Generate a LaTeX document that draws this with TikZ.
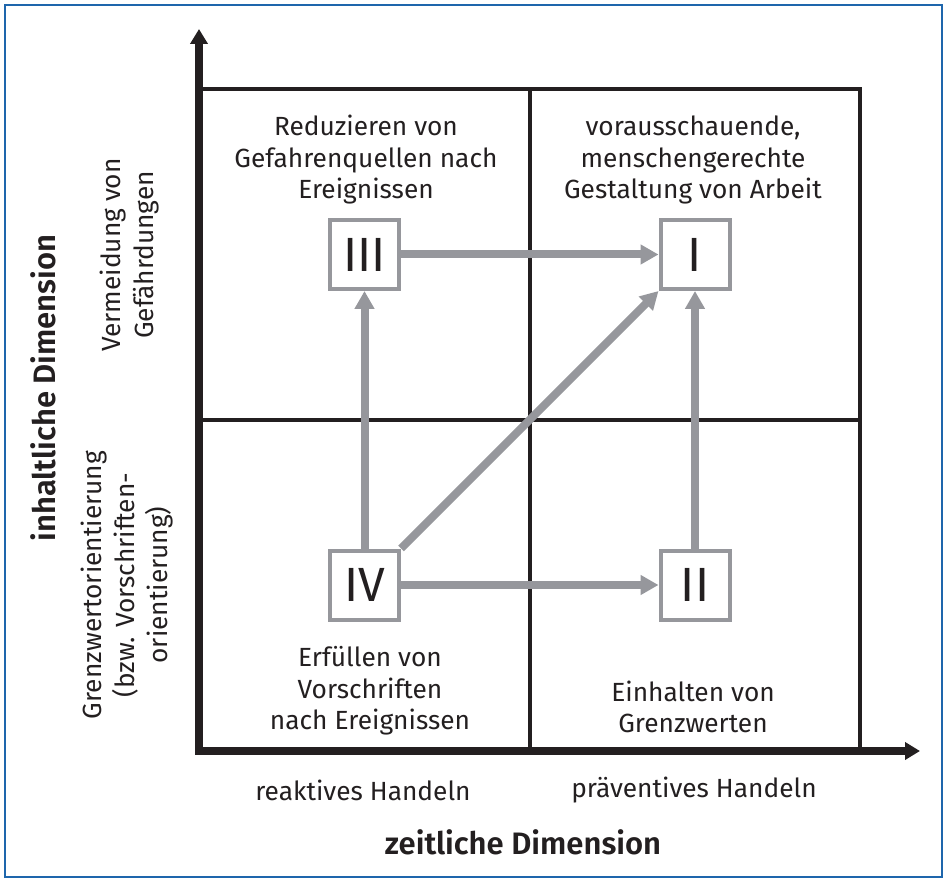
\documentclass[tikz,border=0pt]{standalone}
\usepackage{fontspec}
\setmainfont{Fira Sans}[BoldFont=* SemiBold]
\usetikzlibrary{arrows.meta}
\definecolor{framebl}{RGB}{30,102,172}
\definecolor{linebk}{RGB}{35,31,32}
\definecolor{arrgray}{RGB}{150,151,156}

\begin{document}
\begin{tikzpicture}[x=1pt,y=-1pt,
  gridline/.style={draw=linebk,line width=4pt},
  axisline/.style={draw=linebk,line width=8pt,line join=miter,
    arrows={Triangle[length=15pt,width=17pt]-Triangle[length=15pt,width=17pt]}},
  qbox/.style={draw=arrgray,line width=4pt,fill=white,minimum size=69pt,
    inner sep=0pt,text=linebk,font=\fontsize{48}{52}\selectfont},
  flow/.style={draw=arrgray,line width=8pt,
    -{Triangle[length=18pt,width=19pt]}},
  lbl/.style={align=center,text=linebk,font=\fontsize{26.3}{31.5}\selectfont},
  rlbl/.style={align=center,text=linebk,font=\fontsize{26.3}{33}\selectfont},
  dimlbl/.style={text=linebk,font=\fontsize{31}{34}\selectfont\bfseries}]

\useasboundingbox (0,0) rectangle (945,882);
\draw[framebl,line width=2.5pt] (5,5) rectangle (942,877);

% quadrant grid
\draw[gridline] (199,89) rectangle (860,751);
\draw[gridline] (530,89) -- (530,751);
\draw[gridline] (199,420) -- (860,420);

% axes
\draw[axisline] (199,29) -- (199,751) -- (920,751);

% quadrant boxes
\node[qbox] (III) at (364.5,254.5) {III};
\node[qbox] (I)   at (695,254.5) {I};
\node[qbox] (IV)  at (364.5,585) {IV};
\node[qbox] (II)  at (695,585) {II};

% transitions
\draw[flow] (III.east) -- (I.west);
\draw[flow] (IV.east) -- (II.west);
\draw[flow] (IV.north) -- (III.south);
\draw[flow] (II.north) -- (I.south);
\draw[flow] (IV.north east) -- (I.south west);

% quadrant texts
\node[lbl] (t3) at (366,160) {Reduzieren von\\Gefahrenquellen nach\\Ereignissen};
\node[lbl] (t1) at (693,160) {vorausschauende,\\menschengerechte\\Gestaltung von Arbeit};
\node[lbl] (t4) at (370,691) {Erfüllen von\\Vorschriften\\nach Ereignissen};
\node[lbl] (t2) at (693,707) {Einhalten von\\Grenzwerten};

% axis category texts
\node[lbl] (reakt) at (363,790) {reaktives Handeln};
\node[lbl] (praev) at (694,790) {präventives Handeln};
\node[rlbl,rotate=90] (verm) at (130,255) {Vermeidung von\\Gefährdungen};
\node[rlbl,rotate=90] (grenz) at (127,585) {Grenzwertorientierung\\(bzw. Vorschriften-\\orientierung)};

% axis titles
\node[dimlbl] (zeit) at (523,842) {zeitliche Dimension};
\node[dimlbl,rotate=90] (inhalt) at (43,388) {inhaltliche Dimension};
\end{tikzpicture}
\end{document}
